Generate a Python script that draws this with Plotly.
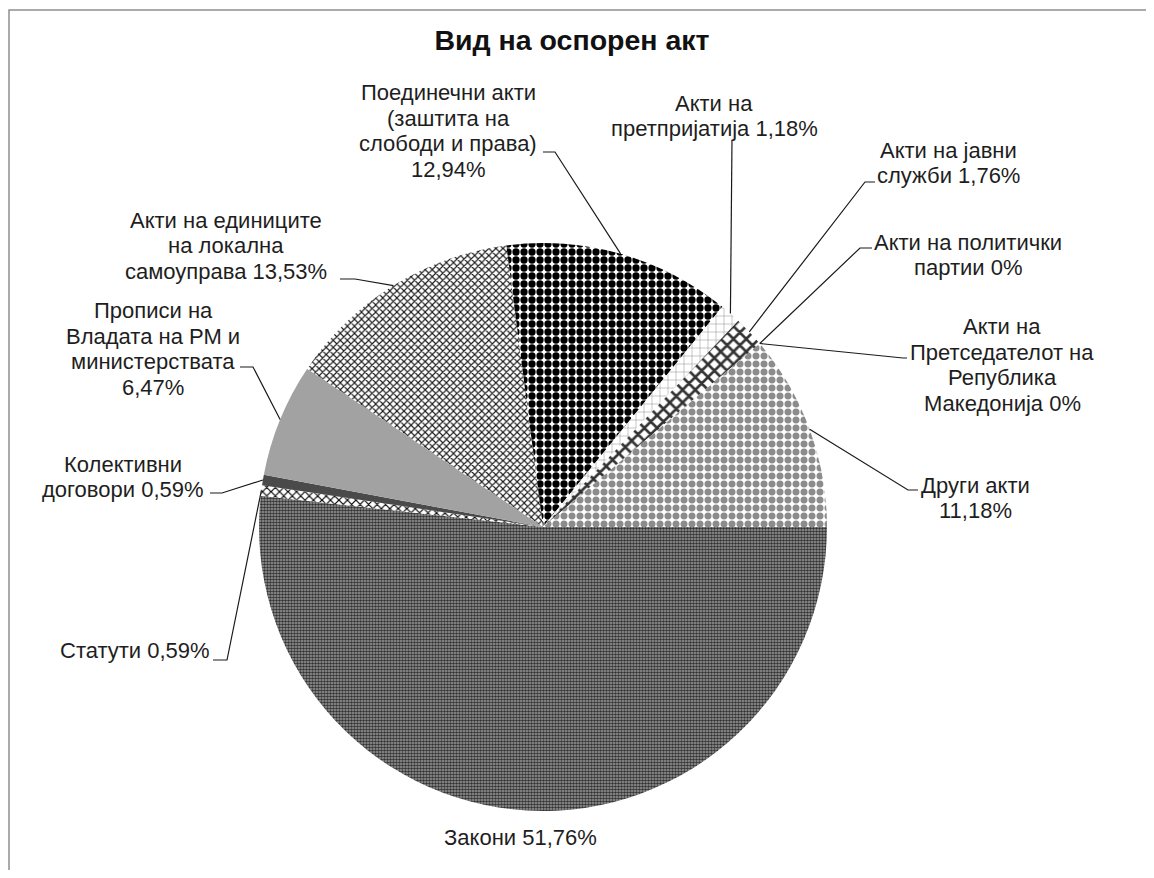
import math
import plotly.graph_objects as go

# ---- data ----
categories = [
    "Закони",
    "Статути",
    "Колективни договори",
    "Прописи на Владата на РМ и министерствата",
    "Акти на единиците на локална самоуправа",
    "Поединечни акти (заштита на слободи и права)",
    "Акти на претпријатија",
    "Акти на јавни служби",
    "Акти на политички партии",
    "Акти на Претседателот на Република Македонија",
    "Други акти",
]
values = [51.76, 0.59, 0.59, 6.47, 13.53, 12.94, 1.18, 1.76, 0, 0, 11.18]
label_templates = [
    "Закони {p}",
    "Статути {p}",
    "Колективни<br>договори {p}",
    "Прописи на<br>Владата на РМ и<br>министерствата<br>{p}",
    "Акти на единиците<br>на локална<br>самоуправа {p}",
    "Поединечни акти<br>(заштита на<br>слободи и права)<br>{p}",
    "Акти на<br>претпријатија {p}",
    "Акти на јавни<br>служби {p}",
    "Акти на политички<br>партии {p}",
    "Акти на<br>Претседателот на<br>Република<br>Македонија {p}",
    "Други акти<br>{p}",
]
title_text = "Вид на оспорен акт"

# ---- layout (pixels, in the 1154x878 window frame) ----
OFF = 8                     # page body margin
W, H = 1154 - OFF, 878 - 2 * OFF
CX, CY, R = 543, 527, 284
ROTATION = 90
LINE_H = 25.5

FONT = "Liberation Sans, Arial, sans-serif"
TXT = "#1e1e1e"

# patterns per slice (style)
pat_shape = [".", "x", "", "", "x", ".", "+", "x", "", "", "."]
pat_fg = ["#333333", "#000000", "#4a4a4a", "#a2a2a2", "#1a1a1a", "#000000",
          "#8c8c8c", "#333333", "#ffffff", "#ffffff", "#8c8c8c"]
pat_bg = ["#a0a0a0", "#ffffff", "#4a4a4a", "#a2a2a2", "#ffffff", "#ffffff",
          "#ffffff", "#ffffff", "#ffffff", "#ffffff", "#ffffff"]
pat_size = [3, 6, 8, 8, 5, 8, 8, 9, 8, 8, 8]
pat_solid = [0.6, 0.35, 0.3, 0.3, 0.4, 0.65, 0.12, 0.5, 0.3, 0.3, 0.6]

# label text centres and leader waypoints (pixels)
label_pos = [
    (520, 837), (135, 650), (123, 477), (153, 349), (226, 246), (448, 131),
    (714, 116), (948, 163), (968, 255), (1002, 365), (975, 498),
]
leader_pts = [
    None,
    [(227, 660), (213, 660)],
    [(222, 493), (210, 493)],
    [(253, 367), (240, 367)],
    [(355, 279), (340, 279)],
    [(555, 152), (543, 152)],
    [(732, 140)],
    [(865, 182), (875, 182)],
    [(860, 248), (872, 248)],
    [(903, 358), (907, 358)],
    [(908, 490), (918, 490)],
]


def fmt(v):
    if v == 0:
        return "0%"
    return ("%.2f" % v).replace(".", ",") + "%"


def px(x):
    return (x - OFF) / W


def py(y):
    return 1 - (y - OFF) / H


fig = go.Figure()
fig.add_trace(go.Pie(
    labels=categories,
    values=values,
    sort=False,
    direction="clockwise",
    rotation=ROTATION,
    textinfo="none",
    hoverinfo="label+percent",
    showlegend=False,
    marker=dict(colors=pat_bg,
                pattern=dict(shape=pat_shape, fgcolor=pat_fg, bgcolor=pat_bg,
                             size=pat_size, solidity=pat_solid, fillmode="replace"),
                line=dict(width=0)),
    domain=dict(x=[px(CX - R), px(CX + R)], y=[py(CY + R), py(CY - R)]),
))

# slice mid angles -> edge points
total = sum(values)
cum = 0.0
annotations = []
shapes = []
for i, v in enumerate(values):
    mid = ROTATION + (cum + v / 2) / total * 360.0
    cum += v
    a = math.radians(mid)
    ex = CX + R * math.sin(a)
    ey = CY - R * math.cos(a)
    tx, ty = label_pos[i]
    lines = label_templates[i].format(p=fmt(v)).split("<br>")
    n = len(lines)
    for k, line in enumerate(lines):
        annotations.append(dict(
            x=px(tx), y=py(ty + (k - (n - 1) / 2) * LINE_H),
            xref="paper", yref="paper",
            text=line, showarrow=False, xanchor="center", yanchor="middle",
            font=dict(family=FONT, size=22, color=TXT),
        ))
    if leader_pts[i]:
        pts = [(ex, ey)] + leader_pts[i]
        path = "M " + " L ".join("%.5f,%.5f" % (px(x), py(y)) for x, y in pts)
        shapes.append(dict(type="path", path=path, xref="paper", yref="paper",
                           line=dict(color="#1a1a1a", width=1.2)))

# chart area border (top, left, right)
shapes.append(dict(type="path", xref="paper", yref="paper",
                   path="M %f,%f L %f,%f L %f,%f L %f,%f" % (
                       px(9), py(878), px(9), py(10), px(1151), py(10), px(1151), py(878)),
                   line=dict(color="#8f8f8f", width=1.5)))

fig.update_layout(
    width=W, height=H,
    margin=dict(l=0, r=0, t=0, b=0),
    paper_bgcolor="white",
    plot_bgcolor="white",
    title=dict(text="<b>" + title_text + "</b>", x=px(572), y=py(40),
               xanchor="center", yanchor="middle",
               font=dict(family=FONT, size=28.5, color="#111111")),
    annotations=annotations,
    shapes=shapes,
)

fig.write_html("out.html")
